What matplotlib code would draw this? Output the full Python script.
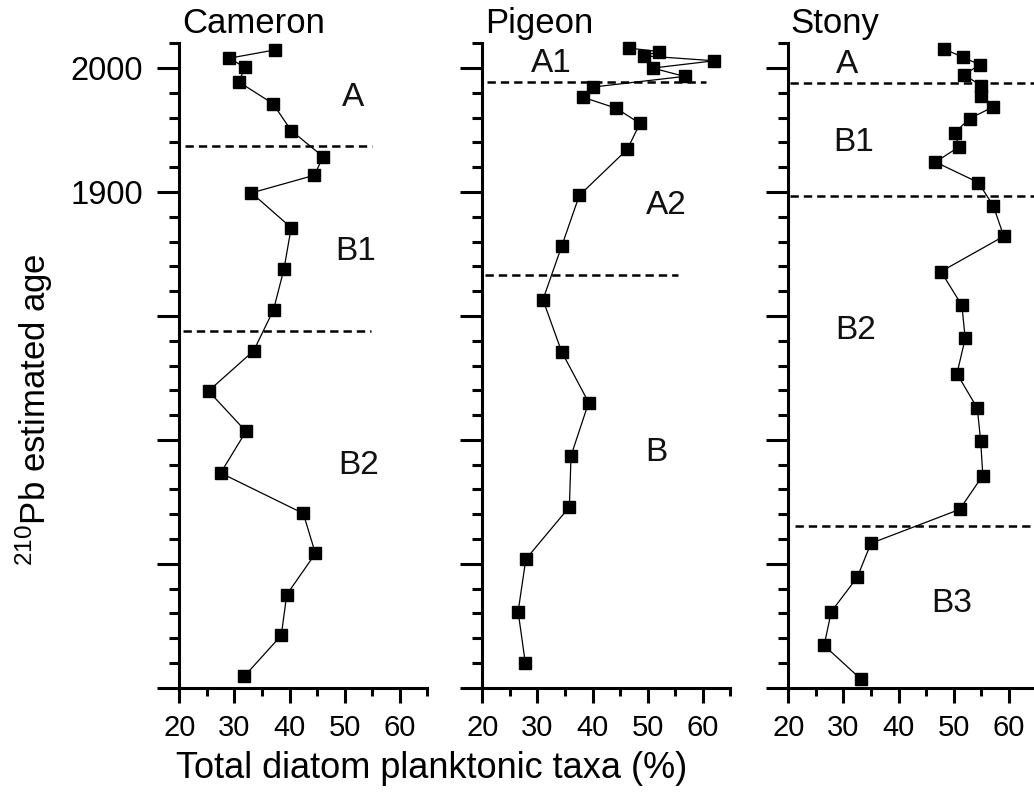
import matplotlib
matplotlib.use("Agg")
import matplotlib.pyplot as plt
from matplotlib.ticker import MultipleLocator, FixedLocator, FixedFormatter

plt.rcParams['font.family'] = ['Liberation Sans', 'DejaVu Sans']
plt.rcParams['mathtext.default'] = 'regular'
plt.rcParams['lines.scale_dashes'] = False

# ---- data ----
lakes = ["Cameron", "Pigeon", "Stony"]

cameron_pct = [37.4, 29.1, 31.9, 30.8, 37.0, 40.3, 46.1, 44.5, 33.1, 40.3, 39.0,
               37.1, 33.5, 25.3, 32.1, 27.5, 42.5, 44.7, 39.5, 38.5, 31.8]
cameron_age = [2014.7, 2008.0, 2000.5, 1988.8, 1971.3, 1949.6, 1928.5, 1913.5, 1899.3,
               1871.2, 1838.0, 1805.0, 1771.9, 1739.4, 1706.8, 1673.3, 1640.6, 1608.3,
               1575.1, 1542.2, 1509.2]

pigeon_pct = [46.7, 52.1, 49.3, 62.1, 50.9, 56.7, 40.1, 38.3, 44.3, 48.6, 46.3,
              37.6, 34.4, 31.0, 34.4, 39.3, 36.1, 35.8, 27.9, 26.5, 27.8]
pigeon_age = [2016.1, 2013.3, 2009.9, 2005.9, 2000.0, 1993.3, 1984.7, 1976.4, 1967.6,
              1955.3, 1934.4, 1897.2, 1856.2, 1813.1, 1771.1, 1730.1, 1687.2, 1645.8,
              1603.7, 1561.4, 1520.2]

stony_pct = [48.2, 51.7, 54.7, 51.9, 55.0, 54.9, 57.2, 52.9, 50.2, 51.0, 46.7, 54.5,
             57.2, 59.1, 47.7, 51.5, 52.1, 50.6, 54.3, 54.9, 55.3, 51.1, 35.0, 32.5,
             27.8, 26.5, 33.2]
stony_age = [2015.5, 2008.8, 2002.7, 1994.6, 1985.8, 1977.2, 1968.7, 1959.3, 1947.8,
             1936.5, 1924.2, 1907.6, 1888.8, 1864.3, 1835.8, 1808.5, 1781.8, 1753.4,
             1725.5, 1699.3, 1671.2, 1643.9, 1616.5, 1589.0, 1561.4, 1534.1, 1506.8]

# zone boundaries: (age, x start, x end)
cameron_bounds = [(1937.0, 21.0, 55.0), (1787.6, 20.7, 54.7)]
pigeon_bounds = [(1988.4, 20.8, 60.5), (1833.2, 20.5, 55.6)]
stony_bounds = [(1988.0, 20.3, 66.0), (1896.4, 20.3, 66.0), (1630.5, 21.2, 66.0)]

# zone labels: (text, x, age)
cameron_zones = [("A", 51.5, 1976), ("B1", 52.0, 1852), ("B2", 52.5, 1679)]
pigeon_zones = [("A1", 32.5, 2004), ("A2", 53.4, 1889), ("B", 51.6, 1690)]
stony_zones = [("A", 30.6, 2003), ("B1", 31.8, 1940), ("B2", 32.3, 1788), ("B3", 49.7, 1568)]

x_ticks = [20, 30, 40, 50, 60]
y_major = [1500, 1600, 1700, 1800, 1900, 2000]
y_labels = ["", "", "", "", "1900", "2000"]

series = [
    (cameron_pct, cameron_age, cameron_bounds, cameron_zones),
    (pigeon_pct, pigeon_age, pigeon_bounds, pigeon_zones),
    (stony_pct, stony_age, stony_bounds, stony_zones),
]

W, H = 1034, 793
fig = plt.figure(figsize=(W / 100, H / 100), dpi=100)

lefts_px = [179.3, 482.3, 788.3]
bottom_px, top_px = 687.7, 43.3
width_px = 248.0

for i, (name, (pct, age, bounds, zones)) in enumerate(zip(lakes, series)):
    ax = fig.add_axes([lefts_px[i] / W, 1 - bottom_px / H, width_px / W, (bottom_px - top_px) / H])
    ax.plot(pct, age, color='black', lw=0.9, marker='s', markersize=9,
            markerfacecolor='black', markeredgecolor='black', zorder=3, clip_on=False)
    for (a, x0, x1) in bounds:
        ax.plot([x0, x1], [a, a], color='black', lw=1.8, dashes=(6, 3.6), clip_on=False, zorder=2)
    for (t, x, a) in zones:
        ax.text(x, a, t, fontsize=24, ha='center', va='center', color='#111111')
    ax.set_xlim(20, 65)
    ax.set_ylim(1500, 2020)
    for s in ['top', 'right']:
        ax.spines[s].set_visible(False)
    for s in ['left', 'bottom']:
        ax.spines[s].set_linewidth(2.2)
    ax.xaxis.set_major_locator(FixedLocator(x_ticks))
    ax.xaxis.set_minor_locator(MultipleLocator(5))
    ax.yaxis.set_major_locator(FixedLocator(y_major))
    ax.yaxis.set_minor_locator(MultipleLocator(20))
    if i == 0:
        ax.yaxis.set_major_formatter(FixedFormatter(y_labels))
    else:
        ax.yaxis.set_major_formatter(FixedFormatter([""] * len(y_major)))
    ax.tick_params(axis='y', which='major', direction='out', length=16, width=2.2,
                   labelsize=23.5, pad=10)
    ax.tick_params(axis='y', which='minor', direction='out', length=7.5, width=2.2)
    ax.tick_params(axis='x', which='major', direction='out', length=11, width=2.2,
                   labelsize=21, pad=8)
    ax.tick_params(axis='x', which='minor', direction='out', length=6, width=2.2)
    ax.patch.set_alpha(0)
    ax.text(0.01, 1.005, name, transform=ax.transAxes, fontsize=25, ha='left', va='bottom')

fig.text(432 / W, 1 - 768 / H, "Total diatom planktonic taxa (%)", fontsize=26,
         ha='center', va='center')
fig.text(34 / W, 1 - 410 / H, r"$^{210}$Pb estimated age", fontsize=25, rotation=90,
         ha='center', va='center')

fig.savefig("out.png", dpi=100)
